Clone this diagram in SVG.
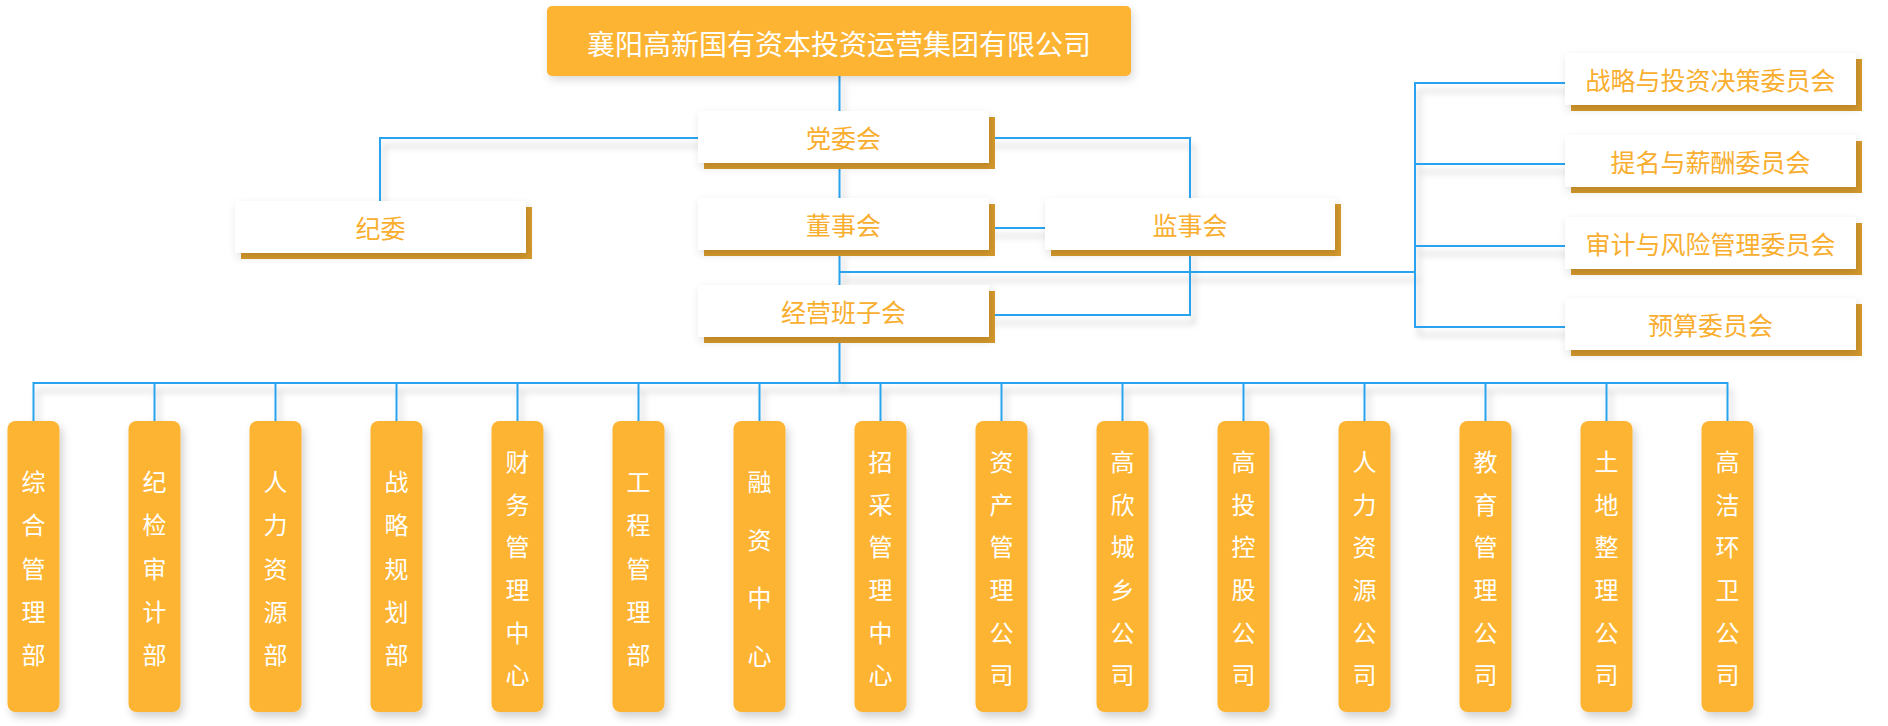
<svg xmlns="http://www.w3.org/2000/svg" width="1888" height="726" viewBox="0 0 1888 726">
<defs>
<filter id="lsh" x="-5%" y="-50%" width="110%" height="200%" filterUnits="userSpaceOnUse">
<feDropShadow dx="4" dy="8" stdDeviation="3" flood-color="#000" flood-opacity="0.22"/>
</filter>
<filter id="bsh" x="-20%" y="-40%" width="140%" height="180%">
<feDropShadow dx="2" dy="4" stdDeviation="4" flood-color="#000" flood-opacity="0.14"/>
</filter>
<filter id="osh" x="-40%" y="-10%" width="180%" height="120%">
<feDropShadow dx="3" dy="5" stdDeviation="4" flood-color="#000" flood-opacity="0.18"/>
</filter>
</defs>
<style>
.ln{fill:none;stroke:#2BA3EE;stroke-width:2}
.wb{fill:#FFFFFF}
.gb{fill:#D69A2C}
.ob{fill:#FDB431}
.t{font-family:"Noto Sans CJK SC","Noto Sans",sans-serif;font-size:25px;fill:#F9AE2F;text-anchor:middle;dominant-baseline:central}
.tw{font-family:"Noto Sans CJK SC","Noto Sans",sans-serif;font-size:24px;fill:#FFFFFF;text-anchor:middle;dominant-baseline:central}
.tt{font-family:"Noto Sans CJK SC","Noto Sans",sans-serif;font-size:28px;fill:#FFFFFF;text-anchor:middle;dominant-baseline:central}
</style>
<rect width="1888" height="726" fill="#FFFFFF"/>
<g id="connectors" filter="url(#lsh)">
<path class="ln" d="M839.5 76V111"/>
<path class="ln" d="M698 138H380V201"/>
<path class="ln" d="M989 138H1190V198"/>
<path class="ln" d="M839.5 163V198"/>
<path class="ln" d="M839.5 250V285"/>
<path class="ln" d="M989 228H1045"/>
<path class="ln" d="M1190 250V315H989"/>
<path class="ln" d="M839.5 272H1415"/>
<path class="ln" d="M1565 83H1415V327H1565M1415 164H1565M1415 246H1565"/>
<path class="ln" d="M839.5 337V384"/>
<path class="ln" d="M33.5 421V383H1727.5V421"/>
<path class="ln" d="M154.5 383V421M275.5 383V421M396.5 383V421M517.5 383V421M638.5 383V421M759.5 383V421M880.5 383V421M1001.5 383V421M1122.5 383V421M1243.5 383V421M1364.5 383V421M1485.5 383V421M1606.5 383V421"/>
</g>
<g id="n-top">
<rect class="ob" x="547" y="6" width="584" height="70" rx="5" filter="url(#bsh)"/>
<text class="tt" x="839" y="43">襄阳高新国有资本投资运营集团有限公司</text>
</g>
<g id="n-dangwei">
<rect class="gb" x="704" y="117" width="291" height="52"/>
<rect class="wb" x="698" y="111" width="291" height="52" filter="url(#bsh)"/>
<text class="t" x="843.5" y="137">党委会</text>
</g>
<g id="n-jiwei">
<rect class="gb" x="241" y="207" width="291" height="52"/>
<rect class="wb" x="235" y="201" width="291" height="52" filter="url(#bsh)"/>
<text class="t" x="380.5" y="227">纪委</text>
</g>
<g id="n-dongshi">
<rect class="gb" x="704" y="204" width="291" height="52"/>
<rect class="wb" x="698" y="198" width="291" height="52" filter="url(#bsh)"/>
<text class="t" x="843.5" y="224">董事会</text>
</g>
<g id="n-jianshi">
<rect class="gb" x="1051" y="204" width="290" height="52"/>
<rect class="wb" x="1045" y="198" width="290" height="52" filter="url(#bsh)"/>
<text class="t" x="1190" y="224">监事会</text>
</g>
<g id="n-jingying">
<rect class="gb" x="704" y="291" width="291" height="52"/>
<rect class="wb" x="698" y="285" width="291" height="52" filter="url(#bsh)"/>
<text class="t" x="843.5" y="311">经营班子会</text>
</g>
<g id="n-c1">
<rect class="gb" x="1571" y="59" width="291" height="52"/>
<rect class="wb" x="1565" y="53" width="291" height="52" filter="url(#bsh)"/>
<text class="t" x="1710.5" y="79">战略与投资决策委员会</text>
</g>
<g id="n-c2">
<rect class="gb" x="1571" y="141" width="291" height="52"/>
<rect class="wb" x="1565" y="135" width="291" height="52" filter="url(#bsh)"/>
<text class="t" x="1710.5" y="161">提名与薪酬委员会</text>
</g>
<g id="n-c3">
<rect class="gb" x="1571" y="223" width="291" height="52"/>
<rect class="wb" x="1565" y="217" width="291" height="52" filter="url(#bsh)"/>
<text class="t" x="1710.5" y="243">审计与风险管理委员会</text>
</g>
<g id="n-c4">
<rect class="gb" x="1571" y="304" width="291" height="52"/>
<rect class="wb" x="1565" y="298" width="291" height="52" filter="url(#bsh)"/>
<text class="t" x="1710.5" y="324">预算委员会</text>
</g>
<g id="n-d0"><rect class="ob" x="7.5" y="421" width="52" height="291" rx="8" filter="url(#osh)"/>
<text class="tw"><tspan x="33.5" y="479.9">综</tspan><tspan x="33.5" y="523.2">合</tspan><tspan x="33.5" y="566.5">管</tspan><tspan x="33.5" y="609.8">理</tspan><tspan x="33.5" y="653.1">部</tspan></text></g>
<g id="n-d1"><rect class="ob" x="128.5" y="421" width="52" height="291" rx="8" filter="url(#osh)"/>
<text class="tw"><tspan x="154.5" y="479.9">纪</tspan><tspan x="154.5" y="523.2">检</tspan><tspan x="154.5" y="566.5">审</tspan><tspan x="154.5" y="609.8">计</tspan><tspan x="154.5" y="653.1">部</tspan></text></g>
<g id="n-d2"><rect class="ob" x="249.5" y="421" width="52" height="291" rx="8" filter="url(#osh)"/>
<text class="tw"><tspan x="275.5" y="479.9">人</tspan><tspan x="275.5" y="523.2">力</tspan><tspan x="275.5" y="566.5">资</tspan><tspan x="275.5" y="609.8">源</tspan><tspan x="275.5" y="653.1">部</tspan></text></g>
<g id="n-d3"><rect class="ob" x="370.5" y="421" width="52" height="291" rx="8" filter="url(#osh)"/>
<text class="tw"><tspan x="396.5" y="479.9">战</tspan><tspan x="396.5" y="523.2">略</tspan><tspan x="396.5" y="566.5">规</tspan><tspan x="396.5" y="609.8">划</tspan><tspan x="396.5" y="653.1">部</tspan></text></g>
<g id="n-d4"><rect class="ob" x="491.5" y="421" width="52" height="291" rx="8" filter="url(#osh)"/>
<text class="tw"><tspan x="517.5" y="459.8">财</tspan><tspan x="517.5" y="502.5">务</tspan><tspan x="517.5" y="545.2">管</tspan><tspan x="517.5" y="587.9">理</tspan><tspan x="517.5" y="630.6">中</tspan><tspan x="517.5" y="673.3">心</tspan></text></g>
<g id="n-d5"><rect class="ob" x="612.5" y="421" width="52" height="291" rx="8" filter="url(#osh)"/>
<text class="tw"><tspan x="638.5" y="479.9">工</tspan><tspan x="638.5" y="523.2">程</tspan><tspan x="638.5" y="566.5">管</tspan><tspan x="638.5" y="609.8">理</tspan><tspan x="638.5" y="653.1">部</tspan></text></g>
<g id="n-d6"><rect class="ob" x="733.5" y="421" width="52" height="291" rx="8" filter="url(#osh)"/>
<text class="tw"><tspan x="759.5" y="480">融</tspan><tspan x="759.5" y="538">资</tspan><tspan x="759.5" y="596">中</tspan><tspan x="759.5" y="654">心</tspan></text></g>
<g id="n-d7"><rect class="ob" x="854.5" y="421" width="52" height="291" rx="8" filter="url(#osh)"/>
<text class="tw"><tspan x="880.5" y="459.8">招</tspan><tspan x="880.5" y="502.5">采</tspan><tspan x="880.5" y="545.2">管</tspan><tspan x="880.5" y="587.9">理</tspan><tspan x="880.5" y="630.6">中</tspan><tspan x="880.5" y="673.3">心</tspan></text></g>
<g id="n-d8"><rect class="ob" x="975.5" y="421" width="52" height="291" rx="8" filter="url(#osh)"/>
<text class="tw"><tspan x="1001.5" y="459.8">资</tspan><tspan x="1001.5" y="502.5">产</tspan><tspan x="1001.5" y="545.2">管</tspan><tspan x="1001.5" y="587.9">理</tspan><tspan x="1001.5" y="630.6">公</tspan><tspan x="1001.5" y="673.3">司</tspan></text></g>
<g id="n-d9"><rect class="ob" x="1096.5" y="421" width="52" height="291" rx="8" filter="url(#osh)"/>
<text class="tw"><tspan x="1122.5" y="459.8">高</tspan><tspan x="1122.5" y="502.5">欣</tspan><tspan x="1122.5" y="545.2">城</tspan><tspan x="1122.5" y="587.9">乡</tspan><tspan x="1122.5" y="630.6">公</tspan><tspan x="1122.5" y="673.3">司</tspan></text></g>
<g id="n-d10"><rect class="ob" x="1217.5" y="421" width="52" height="291" rx="8" filter="url(#osh)"/>
<text class="tw"><tspan x="1243.5" y="459.8">高</tspan><tspan x="1243.5" y="502.5">投</tspan><tspan x="1243.5" y="545.2">控</tspan><tspan x="1243.5" y="587.9">股</tspan><tspan x="1243.5" y="630.6">公</tspan><tspan x="1243.5" y="673.3">司</tspan></text></g>
<g id="n-d11"><rect class="ob" x="1338.5" y="421" width="52" height="291" rx="8" filter="url(#osh)"/>
<text class="tw"><tspan x="1364.5" y="459.8">人</tspan><tspan x="1364.5" y="502.5">力</tspan><tspan x="1364.5" y="545.2">资</tspan><tspan x="1364.5" y="587.9">源</tspan><tspan x="1364.5" y="630.6">公</tspan><tspan x="1364.5" y="673.3">司</tspan></text></g>
<g id="n-d12"><rect class="ob" x="1459.5" y="421" width="52" height="291" rx="8" filter="url(#osh)"/>
<text class="tw"><tspan x="1485.5" y="459.8">教</tspan><tspan x="1485.5" y="502.5">育</tspan><tspan x="1485.5" y="545.2">管</tspan><tspan x="1485.5" y="587.9">理</tspan><tspan x="1485.5" y="630.6">公</tspan><tspan x="1485.5" y="673.3">司</tspan></text></g>
<g id="n-d13"><rect class="ob" x="1580.5" y="421" width="52" height="291" rx="8" filter="url(#osh)"/>
<text class="tw"><tspan x="1606.5" y="459.8">土</tspan><tspan x="1606.5" y="502.5">地</tspan><tspan x="1606.5" y="545.2">整</tspan><tspan x="1606.5" y="587.9">理</tspan><tspan x="1606.5" y="630.6">公</tspan><tspan x="1606.5" y="673.3">司</tspan></text></g>
<g id="n-d14"><rect class="ob" x="1701.5" y="421" width="52" height="291" rx="8" filter="url(#osh)"/>
<text class="tw"><tspan x="1727.5" y="459.8">高</tspan><tspan x="1727.5" y="502.5">洁</tspan><tspan x="1727.5" y="545.2">环</tspan><tspan x="1727.5" y="587.9">卫</tspan><tspan x="1727.5" y="630.6">公</tspan><tspan x="1727.5" y="673.3">司</tspan></text></g>
</svg>
